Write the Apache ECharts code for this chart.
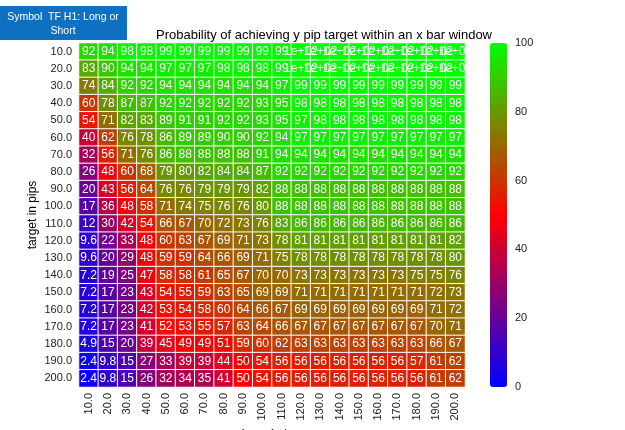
<!DOCTYPE html>
<html><head><meta charset="utf-8">
<script src="https://cdn.jsdelivr.net/npm/echarts@6/dist/echarts.min.js"></script>
<style>html,body{margin:0;padding:0;background:#fff}#c{width:625px;height:430px}</style>
</head><body><div id="c"></div>
<script>
const xLabels = ['10.0','20.0','30.0','40.0','50.0','60.0','70.0','80.0','90.0','100.0','110.0','120.0','130.0','140.0','150.0','160.0','170.0','180.0','190.0','200.0'];
const yLabels = ['10.0','20.0','30.0','40.0','50.0','60.0','70.0','80.0','90.0','100.0','110.0','120.0','130.0','140.0','150.0','160.0','170.0','180.0','190.0','200.0'];
const colorTicks = [0,20,40,60,80,100];
const row10  = [92,94,98,98,99,99,99,99,99,99,99,100,100,100,100,100,100,100,100,100];
const row20  = [83,90,94,94,97,97,97,98,98,98,99,100,100,100,100,100,100,100,100,100];
const row30  = [74,84,92,92,94,94,94,94,94,94,97,99,99,99,99,99,99,99,99,99];
const row40  = [60,78,87,87,92,92,92,92,92,93,95,98,98,98,98,98,98,98,98,98];
const row50  = [54,71,82,83,89,91,91,92,92,93,95,97,98,98,98,98,98,98,98,98];
const row60  = [40,62,76,78,86,89,89,90,90,92,94,97,97,97,97,97,97,97,97,97];
const row70  = [32,56,71,76,86,88,88,88,88,91,94,94,94,94,94,94,94,94,94,94];
const row80  = [26,48,60,68,79,80,82,84,84,87,92,92,92,92,92,92,92,92,92,92];
const row90  = [20,43,56,64,76,76,79,79,79,82,88,88,88,88,88,88,88,88,88,88];
const row100 = [17,36,48,58,71,74,75,76,76,80,88,88,88,88,88,88,88,88,88,88];
const row110 = [12,30,42,54,66,67,70,72,73,76,83,86,86,86,86,86,86,86,86,86];
const row120 = [9.6,22,33,48,60,63,67,69,71,73,78,81,81,81,81,81,81,81,81,82];
const row130 = [9.6,20,29,48,59,59,64,66,69,71,75,78,78,78,78,78,78,78,78,80];
const row140 = [7.2,19,25,47,58,58,61,65,67,70,70,73,73,73,73,73,73,75,75,76];
const row150 = [7.2,17,23,43,54,55,59,63,65,69,69,71,71,71,71,71,71,71,72,73];
const row160 = [7.2,17,23,42,53,54,58,60,64,66,67,69,69,69,69,69,69,69,71,72];
const row170 = [7.2,17,23,41,52,53,55,57,63,64,66,67,67,67,67,67,67,67,70,71];
const row180 = [4.9,15,20,39,45,49,49,51,59,60,62,63,63,63,63,63,63,63,66,67];
const row190 = [2.4,9.8,15,27,33,39,39,44,50,54,56,56,56,56,56,56,56,57,61,62];
const row200 = [2.4,9.8,15,26,32,34,35,41,50,54,56,56,56,56,56,56,56,56,61,62];
const rows = [row10,row20,row30,row40,row50,row60,row70,row80,row90,row100,row110,row120,row130,row140,row150,row160,row170,row180,row190,row200];

const data = [];
rows.forEach((r, yi) => r.forEach((v, xi) => data.push([xi, yi, v])));

function fmt(v){
  if (v >= 100) return '1e+02';
  if (v < 10) return v.toFixed(1);
  return String(Math.round(v));
}
const FONT = 'Liberation Sans, Arial, sans-serif';
const chart = echarts.init(document.getElementById('c'), null, {renderer:'canvas'});
chart.setOption({
  animation: false,
  textStyle: {fontFamily: FONT},
  title: {
    text: 'Probability of achieving y pip target within an x bar window',
    left: 319, top: 24, textAlign: 'center',
    textStyle: {fontFamily: FONT, fontSize: 13, fontWeight: 'normal', color: '#000'}
  },
  grid: [
    {left: 79, right: 160, top: 43, bottom: 43, containLabel: false, outerBoundsMode: 'none'},
    {left: 490, width: 17, top: 43, bottom: 43, containLabel: false, outerBoundsMode: 'none'}
  ],
  xAxis: [
    {type: 'category', data: xLabels, gridIndex: 0, position: 'bottom',
     axisLine: {show: false}, axisTick: {show: false}, splitLine: {show: false},
     axisLabel: {rotate: 90, fontFamily: FONT, fontSize: 11, color: '#222', margin: 6, interval: 0},
     name: 'bar window', nameLocation: 'middle', nameGap: 40,
     nameTextStyle: {fontFamily: FONT, fontSize: 12, color: '#000'}},
    {type: 'value', gridIndex: 1, show: false, min: 0, max: 1}
  ],
  yAxis: [
    {type: 'category', data: yLabels, inverse: true, gridIndex: 0,
     axisLine: {show: false}, axisTick: {show: false}, splitLine: {show: false},
     axisLabel: {fontFamily: FONT, fontSize: 11, color: '#222', margin: 7, interval: 0},
     name: 'target in pips', nameLocation: 'middle', nameGap: 40, nameMoveOverlap: false,
     nameTextStyle: {fontFamily: FONT, fontSize: 12, color: '#000'}},
    {type: 'value', gridIndex: 1, min: 0, max: 100, interval: 20, position: 'right',
     axisLine: {show: false}, axisTick: {show: false}, splitLine: {show: false},
     axisLabel: {fontFamily: FONT, fontSize: 11, color: '#222', margin: 8,
       formatter: v => colorTicks.includes(v) ? String(v) : ''}}
  ],
  visualMap: {
    type: 'continuous', min: 0, max: 100, seriesIndex: 0,
    calculable: false, orient: 'vertical', padding: 0,
    left: 490, top: 43, itemWidth: 17, itemHeight: 344,
    text: null, showLabel: false,
    inRange: {color: ['#0000ff', '#ff0000', '#00ff00']}
  },
  series: [
    {type: 'heatmap', xAxisIndex: 0, yAxisIndex: 0, data: data,
     itemStyle: {borderColor: '#ffffff', borderWidth: 1},
     label: {show: true, color: '#fff', fontFamily: FONT, fontSize: 12,
       formatter: p => fmt(p.value[2])},
     emphasis: {disabled: true}},
    {type: 'line', xAxisIndex: 1, yAxisIndex: 1, data: [], silent: true}
  ],
  graphic: [
    {type: 'rect', x: 0, y: 6, shape: {x: 0, y: 0, width: 127, height: 34},
     style: {fill: '#0f6fc0'}, z: 100},
    {type: 'text', x: 63, y: 10, z: 101,
     style: {text: 'Symbol  TF H1: Long or\nShort', fill: '#fff', font: '10.5px ' + FONT,
       align: 'center', textAlign: 'center', lineHeight: 14}}
  ]
});
</script></body></html>
